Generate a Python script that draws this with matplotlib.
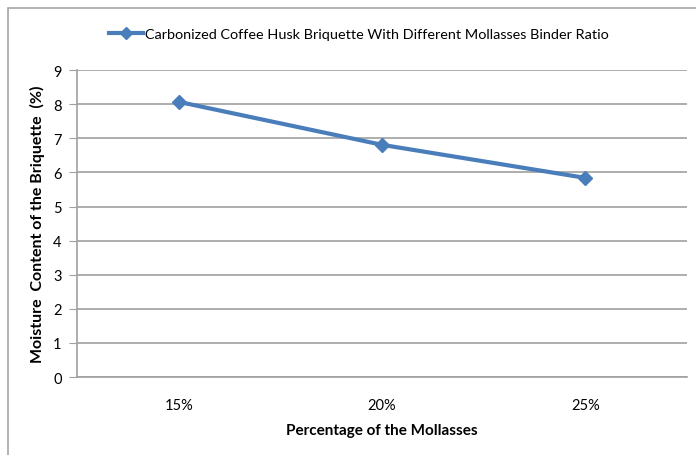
import matplotlib.pyplot as plt
from matplotlib.patches import Rectangle

ratios = ['15%', '20%', '25%']
moisture = [8.07, 6.81, 5.84]
series_name = 'Carbonized Coffee Husk Briquette With Different Mollasses Binder Ratio'

plt.rcParams['font.family'] = ['Lato', 'DejaVu Sans']

fig = plt.figure(figsize=(6.96, 4.56), dpi=100)
ax = fig.add_axes([0.1106, 0.171, 0.8764, 0.673])

# chart frame
fig.patches.append(Rectangle((8 / 696, -0.05), 1.1, 1 - 9 / 456 + 0.05,
                             transform=fig.transFigure, fill=False,
                             edgecolor='#a6a6a6', linewidth=1.2))

x = range(len(ratios))
line, = ax.plot(x, moisture, color='#4a7ebb', linewidth=3, marker='D',
                markersize=7, label=series_name)

ax.set_xlim(-0.5, 2.5)
ax.set_ylim(0, 9)
ax.set_yticks(range(10))
ax.set_xticks(list(x))
ax.set_xticklabels(ratios)
ax.grid(axis='y', color='#a0a0a0', linewidth=1.2)
ax.set_axisbelow(True)

for side in ['top', 'right']:
    ax.spines[side].set_visible(False)
for side in ['left', 'bottom']:
    ax.spines[side].set_color('#a0a0a0')
    ax.spines[side].set_linewidth(1.2)
ax.tick_params(axis='y', length=6, color='#a0a0a0', labelsize=10.5, pad=5)
ax.tick_params(axis='x', length=0, labelsize=10.5, pad=15)

ax.set_xlabel('Percentage of the Mollasses', fontsize=11, fontweight='bold', labelpad=8)
ax.set_ylabel('Moisture  Content of the Briquette  (%)', fontsize=11.5, fontweight='bold', labelpad=6)

fig.legend(handles=[line], loc='center', bbox_to_anchor=(0.515, 0.923),
           frameon=False, fontsize=10.4, handlelength=2.4, handletextpad=0.1,
           markerscale=0.85)

fig.savefig('out.png', dpi=100)
